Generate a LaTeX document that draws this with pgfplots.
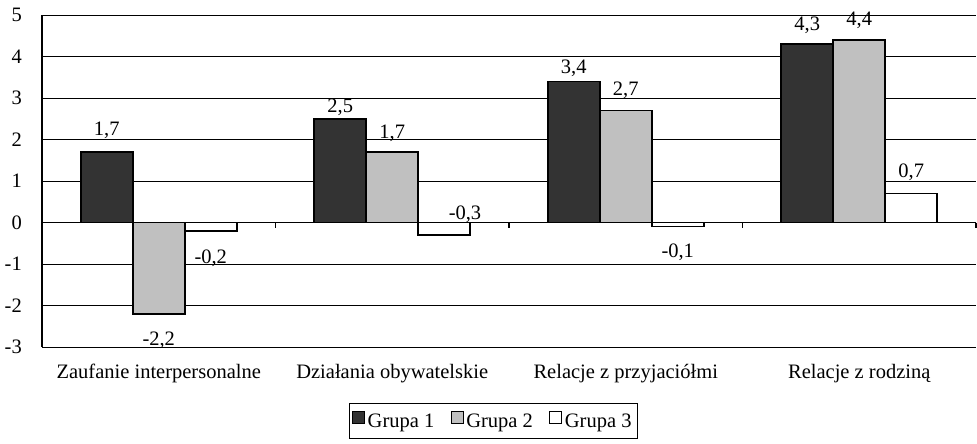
\documentclass[border=0pt]{standalone}
\usepackage{fontspec}
\setmainfont{Liberation Serif}
\usepackage{pgfplots}
\usepackage{pgfplotstable}
\pgfplotsset{compat=1.18}
\definecolor{gA}{HTML}{333333}
\definecolor{gB}{HTML}{C0C0C0}
\pgfplotstableread{
x a b c
0 1.7 -2.2 -0.2
1 2.5 1.7 -0.3
2 3.4 2.7 -0.1
3 4.3 4.4 0.7
}\bardata
\pgfplotstableread{
x y lab
-0.2227 2.22 1,7
0 -2.84 -2,2
0.2227 -0.87 -0,2
0.7773 2.77 2,5
1 2.14 1,7
1.3116 0.19 -0,3
1.7773 3.71 3,4
2 3.18 2,7
2.2227 -0.72 -0,1
2.7773 4.75 4,3
3 4.87 4,4
3.2227 1.20 0,7
}\labdata
\begin{document}
\fontsize{20.5}{24}\selectfont
\begin{tikzpicture}[every node/.append style={font=\fontsize{20.5}{24}\selectfont}]
\useasboundingbox (-42pt,-97pt) rectangle (935pt,347pt);
\begin{axis}[
 at={(0pt,0pt)}, anchor=south west,
 scale only axis, width=934pt, height=332pt,
 xmin=-0.5, xmax=3.5, ymin=-3, ymax=5,
 ytick={-3,-2,-1,0,1,2,3,4,5},
 xtick={0,1,2,3},
 xticklabels={Zaufanie interpersonalne, Działania obywatelskie, Relacje z przyjaciółmi, Relacje z rodziną},
 axis line style={draw=none},
 major tick length=0pt,
 ymajorgrids, grid style={black, line width=0.9pt},
 /pgf/number format/assume math mode=true,
 yticklabel style={anchor=east, inner sep=0pt, xshift=-20pt},
 xticklabel style={anchor=base, inner sep=0pt, yshift=-31pt},
 clip=false,
 legend columns=3,
 legend image code/.code={\draw[#1, draw=black, line width=1pt] (0pt,-1pt) rectangle (12pt,11pt);},
 legend style={at={(0.483,-0.169)}, anchor=north, draw=black, line width=1pt,
   inner xsep=3pt, inner ysep=7pt,
   nodes={inner xsep=2.5pt, inner ysep=1pt},
   /tikz/every even column/.append style={column sep=14pt}},
]
\addplot[ybar, bar width=0.2227, bar shift=-0.2227, fill=gA, draw=black, line width=1.6pt] table[x=x,y=a]{\bardata};
\addlegendentry{Grupa 1}
\addplot[ybar, bar width=0.2227, bar shift=0, fill=gB, draw=black, line width=1.6pt] table[x=x,y=b]{\bardata};
\addlegendentry{Grupa 2}
\addplot[ybar, bar width=0.2227, bar shift=0.2227, fill=white, draw=black, line width=1.6pt] table[x=x,y=c]{\bardata};
\addlegendentry{Grupa 3}
\addplot[draw=none, mark=none, forget plot, nodes near coords, point meta=explicit symbolic,
  nodes near coords style={anchor=center, inner sep=0pt}] table[x=x,y=y,meta=lab]{\labdata};
\draw[black, line width=1.2pt] (axis cs:-0.5,0) -- (axis cs:3.5,0);
\draw[black, line width=1.2pt] (axis cs:-0.5,-3) -- (axis cs:-0.5,5);
\pgfplotsinvokeforeach{-0.5,0.5,1.5,2.5,3.5}{\draw[black, line width=1.2pt] (axis cs:#1,0) -- ++(0pt,-5pt);}
\end{axis}
\end{tikzpicture}
\end{document}
